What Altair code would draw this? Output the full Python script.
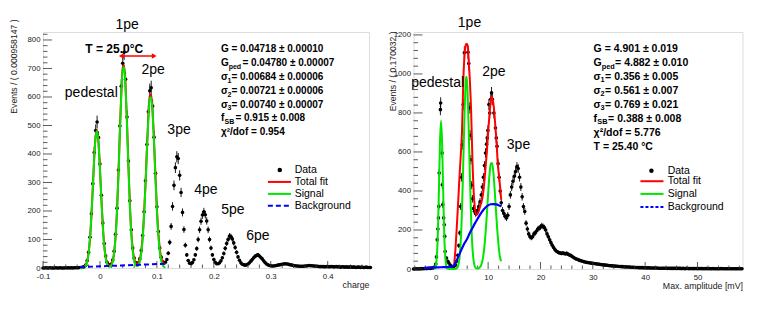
import altair as alt
import numpy as np
import pandas as pd

FONT = "Liberation Sans"
RED, GREEN, BLUE = "#ff0000", "#00e600", "#0000ff"

# ======================= LEFT PANEL (charge) =======================
left_x_start, left_x_step = -0.1, 0.0025
left_counts = [
    0, 0, 1, 0, 0, 1, 0, 0, 0, 1, 0, 0, 1, 0, 0, 0, 1, 0, 1, 0, 1, 0, 1, 1,
    1, 1, 2, 2, 3, 5, 10, 25, 55, 108,
    190, 296, 405, 482, 512, 458, 365, 255, 158, 86,
    42, 20, 11, 10, 14, 28, 59, 118, 210, 344,
    498, 638, 718, 757, 662, 530, 375, 236, 134, 70,
    35, 19, 15, 18, 32, 61, 114, 197, 306, 433,
    548, 622, 632, 568, 459, 332, 215, 128, 70, 38,
    22, 18, 20, 30, 52, 90, 146, 216, 290, 352,
    390, 384, 325, 265, 195, 135, 80, 46, 26, 17,
    15, 19, 29, 46, 68, 100, 134, 164, 186, 197,
    187, 165, 134, 100, 70, 46, 30, 20, 15, 15,
    18, 25, 36, 51, 69, 86, 100, 112, 110, 102,
    88, 72, 55, 39, 27, 18, 13, 11, 10, 11,
    14, 18, 24, 30, 36, 41, 44, 46, 42, 37,
    32, 25, 19, 14, 11, 9, 8, 7,
    7, 8, 9, 10, 11, 12, 13, 14, 15, 14, 14, 12, 11, 10, 9, 8, 7,
    7, 6, 6, 6, 6, 7, 7, 8, 9, 8, 8, 7, 7, 6, 6, 5, 5, 5, 5, 4,
    5, 5, 4, 5, 5, 4, 4, 5, 4, 4, 3, 4, 4, 3, 4, 3, 3, 4, 3, 3,
    3, 2, 3, 3, 2, 3, 2, 2, 3, 2, 2, 2,
]
left_fit_x_start, left_fit_x_step = -0.035, 0.0025
left_signal = [
    0, 0.2, 0.8, 2.5, 7.7, 21, 50, 102, 181, 283, 388, 462, 481, 437, 347,
    240, 147, 78, 36, 15, 6, 4.4, 8.5, 22, 52, 109, 198, 326, 475, 609,
    696, 705, 631, 504, 354, 220, 122, 61, 26.5, 10.6, 6.7, 9.7, 22.3, 50,
    102, 182, 288, 410, 523, 593, 599, 541, 436, 313, 200, 115, 59, 26,
    10.7, 3.9, 1.4,
]
left_total = [
    2, 2.4, 3.2, 5.1, 10.5, 24, 53, 103, 183, 285, 390, 464, 483, 440, 350,
    243, 150, 81, 40, 19, 10, 8.6, 13, 27, 57, 114, 203, 331, 481, 615,
    702, 711, 637, 511, 361, 227, 129, 68, 34, 18.4, 14.7, 17.9, 30.7, 58.6,
    111, 191, 297, 419, 533, 603, 609, 551, 446, 324, 211, 126, 70, 37.4,
    22.3, 15.7, 13.4,
]
left_bg_x = [-0.035, 0.04, 0.115]
left_bg_y = [3, 9, 15]

left_peak_text = ["1pe", "2pe", "pedestal", "3pe", "4pe", "5pe", "6pe"]
left_peak_x = [0.0478, 0.0933, -0.0152, 0.1389, 0.1862, 0.2335, 0.2773]
left_peak_y = [854, 696, 615, 485, 274, 204, 113]

left_stat_main = ["G = 0.04718  ± 0.00010", "G", "σ", "σ", "σ", "f", "χ²/dof = 0.954"]
left_stat_sub = ["", "ped", "1", "2", "3", "SB", ""]
left_stat_rest = ["", " = 0.04780  ± 0.00007", " = 0.00684  ± 0.00006",
                  " = 0.00721  ± 0.00006", " = 0.00740  ± 0.00007",
                  " = 0.915  ± 0.008", ""]
left_stat_x = 0.2124
left_stat_y = [768, 719, 670, 621, 572, 526, 477]

left_temp_text = "T = 25.0°C"
left_temp_pos = (-0.0257, 767)
left_arrow_x = [0.0375, 0.0953]
left_arrow_y = 744

left_legend_text = ["Data", "Total fit", "Signal", "Background"]
left_legend_text_x = 0.342
left_legend_y = [344, 302, 260, 218]
left_legend_marker_x = 0.3158
left_legend_line_x = [0.2949, 0.3354]

left_x_labels = [-0.1, 0, 0.1, 0.2, 0.3, 0.4]
left_y_labels = [0, 100, 200, 300, 400, 500, 600, 700, 800]

# ======================= RIGHT PANEL (amplitude) =======================
right_flat_x_start, right_flat_x_step = -4.25, 0.25
right_flat_counts = [0, 0, 1, 0, 1, 0, 2, 1, 2, 3, 2, 3, 4, 3, 5, 6]
right_peak_x = [
    -0.25, 0.0, 0.13, 0.27, 0.4, 0.5, 0.57, 0.65, 0.88, 0.93, 1.2, 1.25, 1.34,
    1.5, 1.62, 1.7, 1.78, 2.05, 2.3, 2.5, 2.75, 3.0, 3.25, 3.5,
    3.75, 4.0, 4.2, 4.4, 4.6, 4.75, 4.9, 5.05, 5.24, 5.45, 6.15, 6.3, 6.5,
    6.55, 6.7, 6.85, 7.0, 7.2, 7.4, 7.6, 7.8, 8.0, 8.2, 8.45, 8.7, 8.9, 9.1,
    9.3, 9.5, 9.7, 9.83, 9.95, 10.14, 10.3, 10.5, 10.65, 10.8, 11.1, 11.4,
    11.55, 11.7, 11.9, 12.1, 12.3, 12.5, 12.75,
]
right_peak_counts = [
    10, 25, 62, 150, 205, 262, 321, 492, 817, 851, 595, 432, 330,
    262, 227, 168, 90, 56, 40, 31, 20, 14, 12, 14,
    22, 40, 70, 120, 185, 320, 470, 637, 843, 1108, 1111, 1053, 826,
    686, 560, 430, 360, 310, 296, 285, 290, 300, 320, 345, 380, 420, 470,
    530, 595, 640, 672, 710, 843, 800, 870, 903, 870, 800, 723,
    672, 629, 540, 470, 400, 340, 300,
]
right_tail_x_start, right_tail_x_step = 13.0, 0.25
right_tail_counts = [
    285, 270, 262, 275, 320, 380, 420, 450, 475, 500,
    525, 515, 470, 420, 370, 320, 295, 235, 205, 180,
    165, 160, 165, 180, 185, 195, 205, 210, 215, 222,
    218, 212, 200, 180, 165, 150, 135, 122, 110, 100,
    92, 88, 84, 82, 80, 82, 80, 78, 80, 76,
    72, 70, 65, 60, 56, 52, 50, 47, 44, 42,
    40, 38, 36, 34, 33, 32, 31, 30, 29, 28,
    27, 26, 25, 24, 23, 22, 21, 20, 20, 19,
    18, 17, 17, 16, 15, 15, 14, 14, 13, 13,
    12, 12, 11, 11, 10, 10, 10, 9, 9, 9,
    8, 8, 8, 7, 7, 7, 7, 6, 6, 6,
    6, 6, 5, 5, 5, 5, 5, 5, 4, 4,
    4, 4, 4, 4, 4, 3, 4, 3, 3, 3,
    3, 3, 3, 3, 3, 3, 2, 3, 2, 2,
    3, 2, 2, 2, 2, 2, 2, 2, 2, 2,
    2, 2, 2, 1, 2, 2, 1, 2, 1, 1,
    2, 1, 1, 1, 1, 1, 2, 1, 1, 1,
    1, 1, 1, 1, 1, 1, 1, 1, 1, 1,
    1, 1, 1,
]
right_total_x = [3.5, 3.75, 4.0, 4.25, 4.5, 4.75, 5.0, 5.25, 5.5, 5.75, 5.9, 6.1,
                 6.3, 6.5, 6.75, 7.0, 7.25, 7.5, 7.75, 8.0, 8.25, 8.5, 8.75, 9.0,
                 9.25, 9.5, 9.75, 10.0, 10.25, 10.5, 10.65, 10.85, 11.1, 11.3,
                 11.55, 11.85, 12.25, 12.5]
right_total_y = [20, 100, 210, 330, 460, 575, 700, 960, 1100, 1150, 1155, 1145,
                 1060, 970, 810, 560, 390, 305, 278, 283, 300, 325, 345, 380,
                 440, 518, 600, 700, 790, 860, 886, 870, 826, 760,
                 672, 540, 432, 355]
right_signal_x = [-0.4, -0.2, 0.0, 0.2, 0.4, 0.6, 0.8, 1.0, 1.2, 1.4, 1.6, 1.8,
                  2.0, 2.2, 2.5, 3.0, 3.5, 4.0, 4.25, 4.5, 4.75, 5.0, 5.25, 5.5,
                  5.75, 5.85, 6.0, 6.25, 6.5, 6.75, 7.0, 7.25, 7.5, 7.75, 8.0,
                  8.25, 8.5, 8.75, 9.0, 9.25, 9.5, 9.75, 10.0, 10.25, 10.5,
                  10.75, 11.0, 11.25, 11.5, 11.75, 12.0, 12.25, 12.5]
right_signal_y = [0, 3, 16, 65, 189, 411, 651, 760, 651, 411, 189, 65,
                  16, 3, 0, 0, 0, 3.5, 14, 49, 133, 298, 544, 805,
                  969, 985, 950, 754, 491, 257, 111, 38, 11, 3, 2,
                  4, 11, 26, 56, 105, 181, 277, 385, 480, 539,
                  544, 496, 405, 299, 198, 119, 63, 40]
right_bg_x = [-2.3, -1.0, 0.0, 1.0, 2.0, 3.0, 3.5, 4.0, 4.5, 5.0, 5.5, 6.0, 6.5,
              7.0, 7.5, 8.0, 8.5, 9.0, 9.5, 10.0, 10.5, 11.0, 11.5, 12.0, 12.5]
right_bg_y = [5, 7, 8, 9, 10, 12, 18, 45, 75, 105, 133, 155, 185,
              210, 235, 258, 280, 300, 315, 326, 332, 333, 331, 327, 321]

right_peak_text = ["1pe", "pedestal", "2pe", "3pe"]
right_peak_lx = [6.44, 0.35, 11.1, 15.8]
right_peak_ly = [1262, 955, 1010, 636]

right_stat_main = ["G = 4.901 ± 0.019", "G", "σ", "σ", "σ", "f", "χ²/dof = 5.776", "T = 25.40 °C"]
right_stat_sub = ["", "ped", "1", "2", "3", "SB", "", ""]
right_stat_rest = ["", " = 4.882 ± 0.010", " = 0.356 ± 0.005", " = 0.561 ± 0.007",
                   " = 0.769 ± 0.021", " = 0.388 ± 0.008", "", ""]
right_stat_x = 30.15
right_stat_y = [1128, 1056, 985, 913, 841, 769, 697, 626]

right_legend_text = ["Data", "Total fit", "Signal", "Background"]
right_legend_text_x = 44.3
right_legend_y = [504, 450, 385, 318]
right_legend_marker_x = 41.2
right_legend_line_x = [39.1, 43.5]

right_x_labels = [0, 10, 20, 30, 40, 50]
right_y_labels = [0, 200, 400, 600, 800, 1000, 1200]


# ======================= helpers =======================
def grid(start, step, n):
    return [round(start + step * i, 4) for i in range(n)]


def xaxis(values, title, W, expr):
    return alt.Axis(values=values, ticks=False, grid=False, domain=False,
                    labelOverlap=False, labelFont=FONT, labelFontSize=7.8, labelColor="#222",
                    labelPadding=4, labelFlush=False, labelExpr=expr,
                    title=title, titleFont=FONT, titleFontSize=8.8,
                    titleFontWeight="normal", titleColor="#222",
                    titleAlign="right", titleBaseline="middle",
                    titleX=W, titleY=16)


def yaxis(values, title, tx, ty):
    return alt.Axis(values=values, ticks=False, grid=False, domain=False,
                    format="d", labelOverlap=False,
                    labelFont=FONT, labelFontSize=7.8, labelColor="#222",
                    labelPadding=3, labelFlush=False,
                    title=title, titleFont=FONT, titleFontSize=8.6,
                    titleFontWeight="normal", titleColor="#222",
                    titleAngle=-90, titleAlign="right", titleBaseline="middle",
                    titleX=tx, titleY=ty)


class Panel:
    def __init__(self, xs, ys, xax, yax, W, H):
        self.xs, self.ys, self.xax, self.yax, self.W, self.H = xs, ys, xax, yax, W, H
        self.layers = []

    def X(self, f):
        return alt.X(f, type="quantitative", scale=self.xs, axis=self.xax)

    def Y(self, f):
        return alt.Y(f, type="quantitative", scale=self.ys, axis=self.yax)

    def ticks(self, xmaj, xmin, ymaj, ymin):
        for vals, L in ((xmaj, 7), (xmin, 3.5)):
            self.layers.append(alt.Chart(pd.DataFrame({"v": vals})).mark_rule(color="#333", strokeWidth=0.8)
                               .encode(x=self.X("v"), y=alt.value(self.H), y2=alt.value(self.H - L)))
        for vals, L in ((ymaj, 9), (ymin, 4.5)):
            self.layers.append(alt.Chart(pd.DataFrame({"v": vals})).mark_rule(color="#333", strokeWidth=0.8)
                               .encode(y=self.Y("v"), x=alt.value(0), x2=alt.value(L)))

    def data(self, xv, yv):
        df = pd.DataFrame({"x": xv, "y": yv})
        self.layers.append(alt.Chart(df).mark_circle(size=13, color="black", opacity=1)
                           .encode(x=self.X("x"), y=self.Y("y")))
        self.layers.append(alt.Chart(df)
                           .transform_calculate(lo="max(0, datum.y - sqrt(datum.y))",
                                                hi="datum.y + sqrt(datum.y)")
                           .mark_rule(color="black", strokeWidth=0.9)
                           .encode(x=self.X("x"), y=self.Y("lo"), y2="hi:Q"))

    def curve(self, xv, yv, color, width=2.0, dash=None):
        kw = dict(color=color, strokeWidth=width, interpolate="monotone")
        if dash:
            kw["strokeDash"] = dash
        self.layers.append(alt.Chart(pd.DataFrame({"x": xv, "y": yv})).mark_line(**kw)
                           .encode(x=self.X("x"), y=self.Y("y")))

    def text(self, xv, yv, tv, **mk):
        df = pd.DataFrame({"x": xv, "y": yv, "t": tv})
        base = dict(font=FONT, baseline="middle", color="black")
        base.update(mk)
        self.layers.append(alt.Chart(df).mark_text(**base).encode(x=self.X("x"), y=self.Y("y"), text="t:N"))

    def hline(self, x1, x2, y, color, width, dash=None):
        kw = dict(color=color, strokeWidth=width)
        if dash:
            kw["strokeDash"] = dash
        self.layers.append(alt.Chart(pd.DataFrame({"x1": [x1], "x2": [x2], "y": [y]})).mark_rule(**kw)
                           .encode(x=self.X("x1"), x2="x2:Q", y=self.Y("y")))

    def stats(self, x0, yv, main, sub, rest, fs, offs):
        self.text([x0] * len(yv), yv, main, align="left", fontSize=fs, fontWeight="bold")
        for kind, (dsub, drest) in offs.items():
            idx = [i for i, s in enumerate(sub)
                   if (s if s in ("ped", "SB") else ("num" if s else "")) == kind]
            if not idx:
                continue
            yy = [yv[i] for i in idx]
            self.text([x0] * len(idx), yy, [sub[i] for i in idx], align="left",
                      fontSize=fs * 0.7, fontWeight="bold", dx=dsub, dy=3.5)
            self.text([x0] * len(idx), yy, [rest[i] for i in idx], align="left",
                      fontSize=fs, fontWeight="bold", dx=drest)

    def legend(self, tx, mx, lx, yv, labels, bgdash):
        self.text([tx] * 4, yv, labels, align="left", fontSize=10.5)
        self.layers.append(alt.Chart(pd.DataFrame({"x": [mx], "y": [yv[0]]}))
                           .mark_circle(size=20, color="black", opacity=1)
                           .encode(x=self.X("x"), y=self.Y("y")))
        self.hline(lx[0], lx[1], yv[1], RED, 2)
        self.hline(lx[0], lx[1], yv[2], GREEN, 2)
        self.hline(lx[0], lx[1], yv[3], BLUE, 2, bgdash)

    def chart(self):
        return alt.layer(*self.layers).properties(width=self.W, height=self.H)


# ======================= left panel =======================
LW, LH = 326, 236
L = Panel(alt.Scale(domain=[-0.1, 0.4725], nice=False, zero=False),
          alt.Scale(domain=[0, 828], nice=False, zero=False),
          xaxis(left_x_labels, "charge", LW,
                "replace(datum.value == 0 ? '0' : format(datum.value, '.1f'), '\u2212', '-')"),
          yaxis(left_y_labels, "Events / ( 0.000958147 )", -29.5, -13), LW, LH)
L.data(grid(left_x_start, left_x_step, len(left_counts)), left_counts)
L.ticks(left_x_labels,
        [v for v in grid(-0.08, 0.02, 28) if abs(round(v / 0.1) * 0.1 - v) > 1e-6],
        left_y_labels, [v for v in range(20, 821, 20) if v % 100])
lfit_x = grid(left_fit_x_start, left_fit_x_step, len(left_signal))
L.curve(lfit_x, left_total, RED)
L.curve(lfit_x, left_signal, GREEN)
L.curve(left_bg_x, left_bg_y, BLUE, dash=[5, 3])
L.text(left_peak_x, left_peak_y, left_peak_text, align="center", fontSize=14)
L.text([left_temp_pos[0]], [left_temp_pos[1]], [left_temp_text], align="left", fontSize=12, fontWeight="bold")
L.hline(left_arrow_x[0], left_arrow_x[1], left_arrow_y, RED, 1.5)
L.layers.append(alt.Chart(pd.DataFrame({"x": left_arrow_x, "y": [left_arrow_y] * 2,
                                        "s": ["triangle-left", "triangle-right"]}))
                .mark_point(filled=True, color=RED, size=30, opacity=1)
                .encode(x=L.X("x"), y=L.Y("y"),
                        shape=alt.Shape("s:N", scale=alt.Scale(domain=["triangle-left", "triangle-right"],
                                                               range=["triangle-left", "triangle-right"]),
                                        legend=None)))
L.stats(left_stat_x, left_stat_y, left_stat_main, left_stat_sub, left_stat_rest, 10,
        {"ped": (7.8, 21.5), "num": (6.6, 10.5), "SB": (3.6, 14.5)})
L.legend(left_legend_text_x, left_legend_marker_x, left_legend_line_x, left_legend_y, left_legend_text, [5, 3])

# ======================= right panel =======================
RW, RH = 329, 237
R = Panel(alt.Scale(domain=[-4.26, 58.6], nice=False, zero=False),
          alt.Scale(domain=[0, 1215], nice=False, zero=False),
          xaxis(right_x_labels, "Max. amplitude [mV]", RW, "format(datum.value, 'd')"),
          yaxis(right_y_labels, "Events / ( 0.170032 )", -21, -1), RW, RH)
R.data(grid(right_flat_x_start, right_flat_x_step, len(right_flat_counts)) + right_peak_x +
       grid(right_tail_x_start, right_tail_x_step, len(right_tail_counts)),
       right_flat_counts + right_peak_counts + right_tail_counts)
R.ticks(right_x_labels, [v for v in range(-4, 59, 2) if v % 10],
        right_y_labels, [v for v in range(40, 1201, 40) if v % 200])
R.curve(right_total_x, right_total_y, RED)
R.curve(right_signal_x, right_signal_y, GREEN)
R.curve(right_bg_x, right_bg_y, BLUE, width=2.2)
R.text(right_peak_lx, right_peak_ly, right_peak_text, align="center", fontSize=14)
R.stats(right_stat_x, right_stat_y, right_stat_main, right_stat_sub, right_stat_rest, 10.5,
        {"ped": (8.2, 21.5), "num": (7.0, 11.5), "SB": (3.7, 14.5)})
R.legend(right_legend_text_x, right_legend_marker_x, right_legend_line_x, right_legend_y, right_legend_text, [3, 2])

chart = (alt.hconcat(L.chart(), R.chart(), spacing=44.5, bounds="flush")
         .properties(padding={"left": 1, "top": 7, "right": 5, "bottom": 5})
         .configure_view(stroke="#666", strokeWidth=1)
         .configure(background="white"))

chart.save("out.html", embed_options={"renderer": "svg", "actions": False})
